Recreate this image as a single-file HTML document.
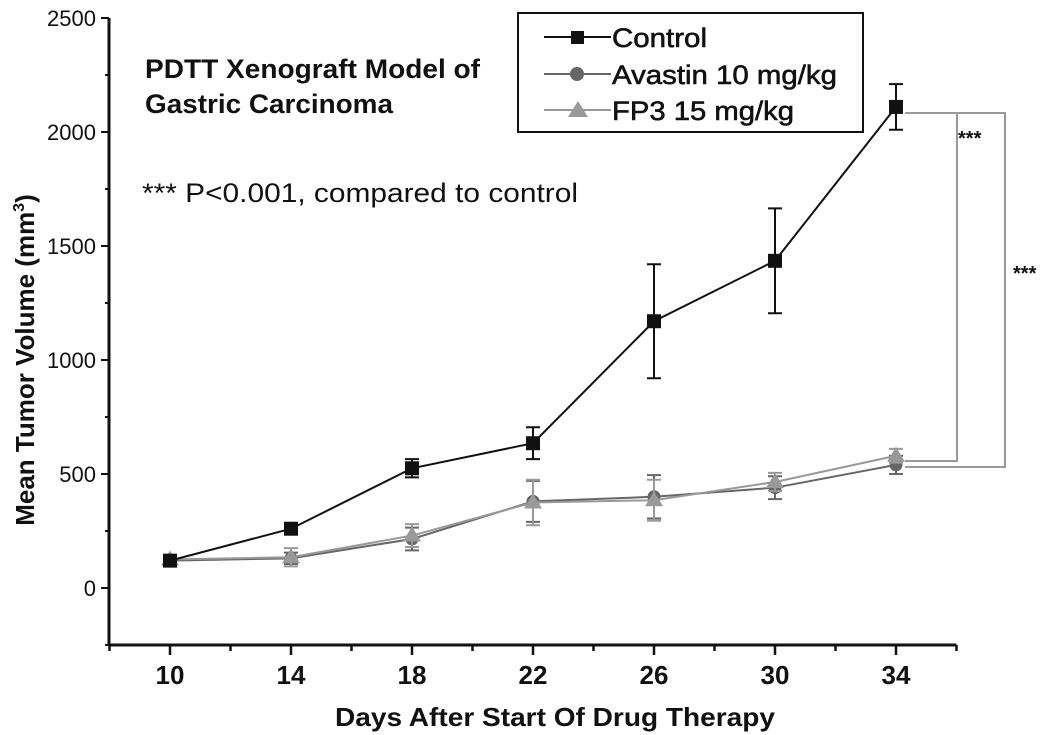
<!DOCTYPE html>
<html><head><meta charset="utf-8"><style>
body{margin:0;background:#fff;}
svg{display:block;font-family:"Liberation Sans",Arial,sans-serif;}
</style></head><body>
<svg id="chart" width="1050" height="735" viewBox="0 0 1050 735">
<g id="axes"></g>
<g id="marks"></g>
<text x="145" y="78" font-size="27" font-weight="bold" fill="#111" textLength="335" lengthAdjust="spacingAndGlyphs">PDTT Xenograft Model of</text>
<text x="145" y="113" font-size="27" font-weight="bold" fill="#111" textLength="248" lengthAdjust="spacingAndGlyphs">Gastric Carcinoma</text>
<text x="142" y="202" font-size="27" fill="#111" textLength="436" lengthAdjust="spacingAndGlyphs">*** P&lt;0.001, compared to control</text>
<text transform="translate(34,360) rotate(-90)" text-anchor="middle" font-size="26" font-weight="bold" fill="#111">Mean Tumor Volume (mm<tspan dy="-10" font-size="16">3</tspan><tspan dy="10">)</tspan></text>
<text x="335" y="726" font-size="26" font-weight="bold" fill="#111" textLength="440" lengthAdjust="spacingAndGlyphs">Days After Start Of Drug Therapy</text>
<g>
<rect x="518" y="13" width="345" height="119" fill="#fff" stroke="#111" stroke-width="2"/>
<g><line x1="544" y1="37" x2="611" y2="37" stroke="#111" stroke-width="2"/><rect x="571" y="31" width="13" height="13" fill="#111"/><text x="612" y="47" font-size="27" fill="#111" stroke="#111" stroke-width="0.6" textLength="95" lengthAdjust="spacingAndGlyphs">Control</text></g>
<g><line x1="544" y1="74" x2="611" y2="74" stroke="#666" stroke-width="2"/><circle cx="577" cy="74" r="7" fill="#666"/><text x="612" y="84" font-size="27" fill="#111" stroke="#111" stroke-width="0.6" textLength="225" lengthAdjust="spacingAndGlyphs">Avastin 10 mg/kg</text></g>
<g><line x1="544" y1="110" x2="611" y2="110" stroke="#999" stroke-width="2"/><polygon points="578,101 588,117 568,117" fill="#999"/><text x="612" y="120" font-size="27" fill="#111" stroke="#111" stroke-width="0.6" textLength="182" lengthAdjust="spacingAndGlyphs">FP3 15 mg/kg</text></g>
</g>
<g>
<polyline points="905,113 957,113 957,461 905,461" fill="none" stroke="#999" stroke-width="2"/>
<polyline points="905,113 1005,113 1005,467 905,467" fill="none" stroke="#999" stroke-width="2"/>
<text x="958" y="145" font-size="20" font-weight="bold" fill="#111">***</text>
<text x="1013" y="280" font-size="20" font-weight="bold" fill="#111">***</text>
</g>
</svg>
<script>
const days = [10,14,18,22,26,30,34];
const controlVals = [120,260,525,635,1170,1435,2110];
const controlErr = [15,15,40,70,250,230,100];
const avastinVals = [120,130,215,380,400,440,540];
const avastinErr = [15,25,50,90,95,50,40];
const fp3Vals = [125,135,230,375,385,465,580];
const fp3Err = [15,40,50,100,90,40,30];
const yTicks = [0,500,1000,1500,2000,2500];
const xTicks = [10,14,18,22,26,30,34];

const NS="http://www.w3.org/2000/svg";
const xs = d => 170 + (d-10)*30.25;
const ys = v => 588 - v*0.228;
function mk(tag, attrs, parent){const e=document.createElementNS(NS,tag);for(const k in attrs)e.setAttribute(k,attrs[k]);parent.appendChild(e);return e;}
const axes=document.getElementById('axes'), marks=document.getElementById('marks');
const x0=109, yBase=ys(-250), xEnd=xs(36);
let e=mk('line',{x1:x0,y1:ys(2500),x2:x0,y2:yBase,stroke:'#111','stroke-width':3},axes);


e=mk('line',{x1:x0,y1:yBase,x2:xEnd,y2:yBase,stroke:'#111','stroke-width':3},axes);


for(let v=-250; v<=2500; v+=250){
  const major = v%500===0;
  mk('line',{x1:x0-(major?8:4),y1:ys(v),x2:x0,y2:ys(v),stroke:'#111','stroke-width':2},axes);
}
yTicks.forEach(v=>{
  const t=mk('text',{x:x0-13,y:ys(v)+8,'text-anchor':'end','font-size':22,fill:'#111'},axes);
  t.textContent=v;
  
  
});
for(let d=8; d<=36; d+=2){
  mk('line',{x1:xs(d),y1:yBase,x2:xs(d),y2:yBase+((d-10)%4===0?10:6),stroke:'#111','stroke-width':2.5},axes);
}
xTicks.forEach(d=>{
  const t=mk('text',{x:xs(d),y:yBase+39,'text-anchor':'middle','font-size':26,'font-weight':'bold',fill:'#111'},axes);
  t.textContent=d;
  
  
});
function series(vals, errs, color, shape, name){
  const g=mk('g',{},marks);
  
  
  mk('polyline',{points:days.map((d,i)=>xs(d)+','+ys(vals[i])).join(' '),fill:'none',stroke:color,'stroke-width':2},g);
  days.forEach((d,i)=>{
    const cx=xs(d), cy=ys(vals[i]), t=ys(vals[i]+errs[i]), b=ys(vals[i]-errs[i]);
    mk('path',{d:`M${cx},${t}V${b}M${cx-7},${t}H${cx+7}M${cx-7},${b}H${cx+7}`,stroke:color,'stroke-width':2,fill:'none'},g);
    let m;
    if(shape==='sq') m=mk('rect',{x:cx-7,y:cy-7,width:14,height:14,fill:color},g);
    else if(shape==='c') m=mk('circle',{cx:cx,cy:cy,r:6.5,fill:color},g);
    else m=mk('polygon',{points:`${cx},${cy-9} ${cx+9},${cy+6} ${cx-9},${cy+6}`,fill:color},g);
    
    
  });
}
series(avastinVals, avastinErr, '#666', 'c', 'avastin-series');
series(fp3Vals, fp3Err, '#999', 't', 'fp3-series');
series(controlVals, controlErr, '#111', 'sq', 'control-series');
</script>
</body></html>
